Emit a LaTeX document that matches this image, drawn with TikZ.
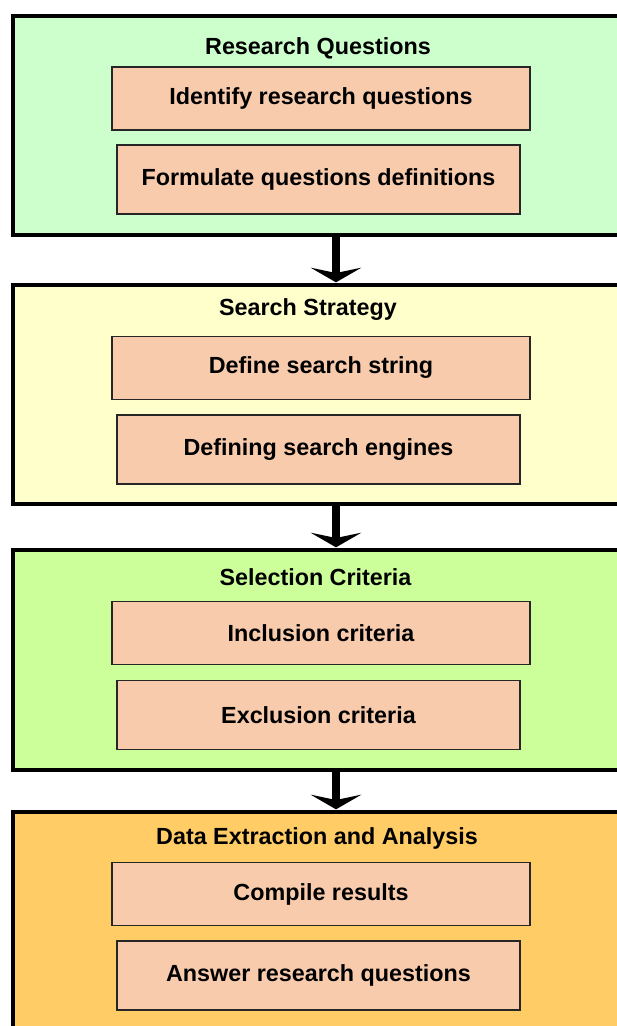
\documentclass[tikz,border=0pt]{standalone}
\usepackage{fontspec}
\setmainfont{Liberation Sans}
\usetikzlibrary{arrows.meta}

\definecolor{rqgreen}{HTML}{CCFFCC}
\definecolor{ssyellow}{HTML}{FFFFCC}
\definecolor{sclime}{HTML}{CCFF99}
\definecolor{deorange}{HTML}{FFCC66}
\definecolor{taskpeach}{HTML}{F8CBAD}

\begin{document}
\begin{tikzpicture}[x=0.75pt, y=-0.75pt,
      every node/.style={align=center, font=\fontsize{17.5}{21}\selectfont\bfseries},
      phase/.style={draw, line width=3pt, anchor=north west, minimum width=484.5pt, outer sep=0pt, inner sep=0pt},
      task/.style={draw=black!85, line width=1.2pt, fill=taskpeach, minimum width=313.5pt, minimum height=47.25pt, outer sep=0pt},
      tasktwo/.style={task, minimum width=302.25pt, minimum height=51.75pt},
      flow/.style={line width=6pt, -{Stealth[length=11pt, width=38pt, inset=4pt]}, shorten >=2pt}]
  \useasboundingbox (0,0) rectangle (617,1026);
  \clip (0,0) rectangle (617,1026);

  \node[phase, fill=rqgreen, minimum height=164.25pt] (rq) at (13,16) {};
  \node (rqtitle) at (318,48) {Research Questions};
  \node[task] (identify) at (321,98.5) {Identify research questions};
  \node[tasktwo] (formulate) at (318.5,179.5) {Formulate questions definitions};

  \node[phase, fill=ssyellow, minimum height=164.25pt] (ss) at (13,285) {};
  \node (sstitle) at (308,310) {Search Strategy};
  \node[task] (string) at (321,368) {Define search string};
  \node[tasktwo] (engines) at (318.5,449.5) {Defining search engines};

  \node[phase, fill=sclime, minimum height=165pt] (sc) at (13,550) {};
  \node (sctitle) at (315.5,577) {Selection Criteria};
  \node[task] (inclusion) at (321,633) {Inclusion criteria};
  \node[tasktwo] (exclusion) at (318.5,715) {Exclusion criteria};

  \node[phase, fill=deorange, minimum height=195pt] (de) at (13,812) {};
  \node (detitle) at (317,838) {Data Extraction and Analysis};
  \node[task] (compile) at (321,894) {Compile results};
  \node[tasktwo] (answer) at (318.5,975.5) {Answer research questions};

  \draw[flow] (rq.south) -- (ss.north);
  \draw[flow] (ss.south) -- (sc.north);
  \draw[flow] (sc.south) -- (de.north);
\end{tikzpicture}
\end{document}
